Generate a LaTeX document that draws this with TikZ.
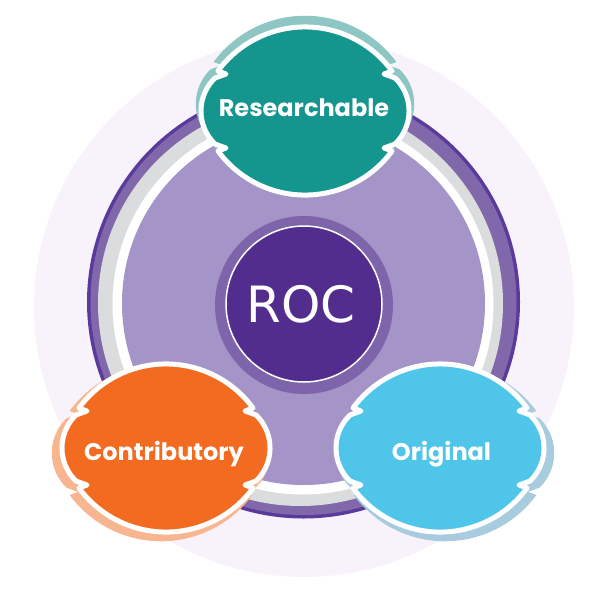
\documentclass[tikz,border=0pt]{standalone}
\usepackage{fontspec}
\newfontfamily\labelfont{Poppins}
\newfontfamily\rocfont{DejaVu Sans}
\definecolor{bgc}{HTML}{F8F3FA}
\definecolor{ringdark}{HTML}{5B3A9C}
\definecolor{ringmid}{HTML}{8068AB}
\definecolor{ringgray}{HTML}{DBDCDE}
\definecolor{fillp}{HTML}{A594C8}
\definecolor{rocring}{HTML}{7E64AB}
\definecolor{rocin}{HTML}{522D8E}
\definecolor{tealc}{HTML}{14968E}
\definecolor{teall}{HTML}{8EC6C3}
\definecolor{orangec}{HTML}{F26B21}
\definecolor{orangel}{HTML}{F7B690}
\definecolor{cyanc}{HTML}{4FC5E9}
\definecolor{cyanl}{HTML}{A8CBDD}
\tikzset{
  blobshape/.style={insert path={(87,40) arc[start angle=36.3,end angle=143.7,radius=108pt]
     -- (-79,37) -- (-90,33) arc[start angle=134,end angle=226,radius=45.9pt]
     -- (-79,-37) -- (-87,-40) arc[start angle=216.3,end angle=323.7,radius=108pt]
     -- (79,-37) -- (90,-33) arc[start angle=-46,end angle=46,radius=45.9pt]
     -- (79,37) -- cycle}},
  lbl/.style={text=white, inner sep=0pt, anchor=base,
     font=\labelfont\bfseries\fontsize{24}{24}\selectfont},
  roclbl/.style={text=white, inner sep=0pt, anchor=base,
     font=\rocfont\fontsize{50}{50}\selectfont}
}
% #1 name, #2 cx, #3 cy, #4 outline cx, #5 outline cy, #6 main, #7 light
\newcommand{\blobnode}[7]{%
  \begin{scope}[shift={(#4,-#5)},scale=1.05]
    \fill[#7, line join=round, blobshape];
  \end{scope}
  \begin{scope}[shift={(#2,-#3)}]
    \filldraw[fill=#6, draw=white, line width=5pt, line join=round, blobshape];
  \end{scope}
}
\begin{document}
\begin{tikzpicture}[x=1pt,y=1pt]
\useasboundingbox (0,0) rectangle (604,-603);
% background disc
\fill[bgc] (304,-307) circle[radius=270pt];
% main ring
\fill[ringdark] (303.5,-302) circle[radius=216.5pt];
\fill[ringmid] (303.5,-302) circle[radius=213pt];
\fill[ringgray] (300.5,-303.5) circle[radius=202.5pt];
\fill[white] (303,-304) circle[radius=190.5pt];
\fill[fillp] (303.5,-303.5) circle[radius=181.5pt];
% ROC
\fill[rocring] (304,-305) circle[radius=89pt];
\filldraw[fill=rocin, draw=white, line width=1.5pt] (304,-304) circle[radius=78pt];
\node[roclbl] (roc) at (301,-322) {ROC};
% petals
\blobnode{res}{305}{111}{305}{104}{tealc}{teall}
\blobnode{con}{166}{448}{161}{453}{orangec}{orangel}
\blobnode{ori}{440}{448}{445}{453}{cyanc}{cyanl}
\node[lbl] (restext) at (304,-116) {Researchable};
\node[lbl] (context) at (164,-460) {Contributory};
\node[lbl] (oritext) at (441.5,-460) {Original};
\end{tikzpicture}
\end{document}
